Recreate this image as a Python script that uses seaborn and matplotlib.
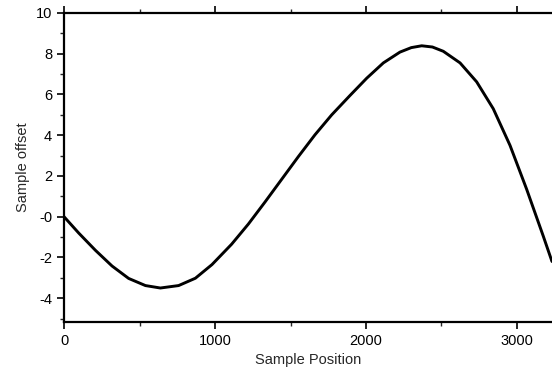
import matplotlib
matplotlib.use("Agg")
from matplotlib import pyplot as plt
from matplotlib.ticker import MultipleLocator
import seaborn as sns
import pandas as pd

# values
positions = [0, 97, 208, 318, 428, 539, 638, 759, 870, 980, 1110, 1221, 1331,
             1442, 1552, 1662, 1773, 1894, 2005, 2115, 2225, 2300, 2369, 2440,
             2512, 2623, 2733, 2843, 2954, 3064, 3174, 3232]
offsets = [0.0, -0.8, -1.65, -2.42, -3.03, -3.38, -3.50, -3.38, -3.02, -2.35,
           -1.35, -0.36, 0.72, 1.84, 2.95, 4.02, 5.0, 5.95, 6.8, 7.55, 8.08, 8.3,
           8.39, 8.33, 8.12, 7.55, 6.62, 5.3, 3.5, 1.35, -0.95, -2.2]

x_ticks = [0, 1000, 2000, 3000]
y_ticks = [-4, -2, 0, 2, 4, 6, 8, 10]
y_tick_labels = ["-4", "-2", "-0", "2", "4", "6", "8", "10"]

sns.set_style("ticks")
plt.rcParams["font.family"] = ["Liberation Sans", "DejaVu Sans"]

df = pd.DataFrame({"pos": positions, "offset": offsets})

fig = plt.figure(figsize=(5.52, 3.71), dpi=100)
ax = fig.add_axes([0.116, 0.132, 0.884, 0.833])
sns.lineplot(df, x="pos", y="offset", color="black", linewidth=2.1, ax=ax)

ax.set_xlim(0, 3232)
ax.set_ylim(-5.17, 10)
ax.set_xticks(x_ticks, [str(t) for t in x_ticks])
ax.set_yticks(y_ticks, y_tick_labels)
ax.xaxis.set_minor_locator(MultipleLocator(500))
ax.yaxis.set_minor_locator(MultipleLocator(1))
ax.tick_params(axis="both", which="major", direction="out", length=5, width=1.2,
               labelsize=10.5, colors="black")
ax.tick_params(axis="both", which="minor", direction="out", length=3, width=1.0)
ax.tick_params(axis="x", top=True, which="both")

for side in ["left", "bottom", "top"]:
    ax.spines[side].set_linewidth(1.6)
    ax.spines[side].set_color("black")
ax.spines["right"].set_visible(False)

ax.set_xlabel("Sample Position", fontsize=10.5)
ax.set_ylabel("Sample offset", fontsize=10.5)

fig.savefig("out.png", dpi=100)
plt.close()
